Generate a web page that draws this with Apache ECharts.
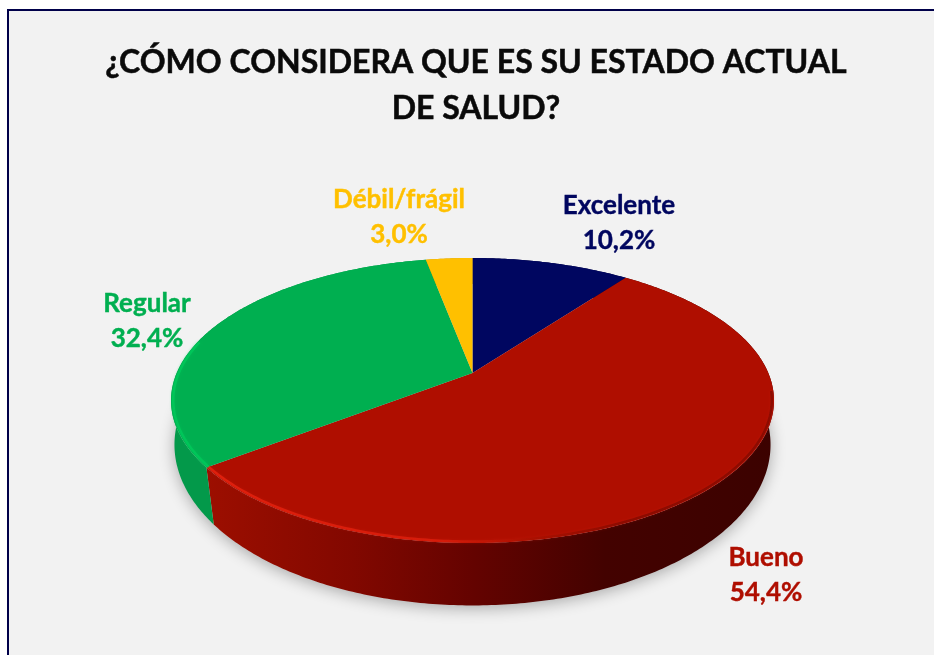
<!DOCTYPE html>
<html><head><meta charset="utf-8">
<style>html,body{margin:0;padding:0;background:#fff}#c{width:934px;height:655px}</style>
<script src="https://cdn.jsdelivr.net/npm/echarts@6/dist/echarts.min.js"></script>
</head><body><div id="c"></div>
<script>
const categories = ['Excelente', 'Bueno', 'Regular', 'Débil/frágil'];
const percentages = [10.2, 54.4, 32.4, 3.0];
const titleLines = ['¿CÓMO CONSIDERA QUE ES SU ESTADO ACTUAL', 'DE SALUD?'];

const topColors = ['#000660', '#AF0E00', '#00AF50', '#FFC000'];
const labelColors = ['#00065F', '#AF0E00', '#00AF50', '#FFC000'];
const labelAnchors = [[619, 223], [766, 575], [147, 321], [399, 217]];

// Perspective views of the disc's upper and lower faces
const CX = 472.5;
const TOP_VIEW = { apex: 373, A: 295.8, B: 137.2, K: 0.193 };
const LOW_VIEW = { apex: 419, A: 294.2, B: 156.6, K: 0.16 };
const total = percentages.reduce((a, b) => a + b, 0);

function project(view, theta, r) {
  const X = Math.sin(theta) * r, Z = Math.cos(theta) * r, w = 1 + view.K * Z;
  return [CX + view.A * X / w, view.apex - view.B * Z / w];
}
function arc(view, a0, a1, r) {
  const n = Math.max(2, Math.ceil((a1 - a0) / 0.012)), out = [];
  for (let i = 0; i <= n; i++) out.push(project(view, a0 + (a1 - a0) * i / n, r));
  return out;
}
const hGrad = (stops) => ({ type: 'linear', x: 171, y: 0, x2: 774, y2: 0, global: true,
  colorStops: stops.map(s => ({ offset: s[0], color: s[1] })) });
const sideFills = [
  '#00033a',
  hGrad([[0, '#A31000'], [0.3, '#820800'], [0.5, '#640300'], [0.72, '#430200'], [1, '#3C0200']]),
  '#03994A',
  '#c99700'
];
const rimFills = [
  null,
  hGrad([[0, '#E8230F'], [0.45, '#DC1E0C'], [0.6, '#A81000'], [0.75, '#860A00'], [1, '#860A00']]),
  '#00C85A',
  null
];
const rimGlows = [null, 'rgba(200,24,10,0.45)', 'rgba(0,194,87,0.6)', null];

function renderSlice(params, api) {
  const i = params.dataIndex;
  let before = 0;
  for (let j = 0; j < i; j++) before += api.value(0, j);
  const v = api.value(0);
  const a0 = before / total * Math.PI * 2, a1 = (before + v) / total * Math.PI * 2;
  const rim = arc(TOP_VIEW, a0, a1, 1);
  const children = [];

  if (i === 0) {
    children.push({ type: 'polygon', z2: 0, shape: { points: arc(LOW_VIEW, 0, Math.PI * 2, 1) },
      style: { fill: '#cfcfcf', shadowColor: 'rgba(0,0,0,0.3)', shadowBlur: 15, shadowOffsetY: 3 } });
  }
  children.push({ type: 'polygon', z2: 1,
    shape: { points: rim.concat(arc(LOW_VIEW, a0, a1, 1).reverse()) }, style: { fill: sideFills[i] } });
  children.push({ type: 'polygon', z2: 2,
    shape: { points: [project(TOP_VIEW, 0, 0)].concat(rim) }, style: { fill: topColors[i] } });

  const f0 = Math.max(a0, 1.7), f1 = Math.min(a1, 4.95);
  if (rimFills[i] && f1 > f0) {
    children.push({ type: 'polyline', z2: 3, shape: { points: arc(TOP_VIEW, f0, f1, 0.993) },
      style: { fill: 'none', stroke: rimFills[i], lineWidth: 2.5, opacity: 0.85,
        shadowColor: rimGlows[i], shadowBlur: 3 } });
  }
  const pct = v.toFixed(1).replace('.', ',') + '%';
  children.push({ type: 'text', z2: 5, style: {
    text: categories[i] + '\n' + pct, x: labelAnchors[i][0], y: labelAnchors[i][1],
    fill: labelColors[i], stroke: labelColors[i], lineWidth: 0.4,
    font: 'bold 26px Lato', textAlign: 'center', textVerticalAlign: 'middle', lineHeight: 35 } });
  return { type: 'group', children };
}

const chart = echarts.init(document.getElementById('c'), null, { renderer: 'canvas' });
chart.setOption({
  animation: false,
  backgroundColor: '#fff',
  title: {
    text: titleLines.join('\n'), left: 471, top: 35, textAlign: 'center',
    textStyle: { fontFamily: 'Lato', fontWeight: 'bold', fontSize: 32, lineHeight: 46, color: '#0a0a0a',
      textBorderColor: '#0a0a0a', textBorderWidth: 0.5 }
  },
  graphic: [{ type: 'rect', z: -1, silent: true, shape: { x: 8, y: 10, width: 1000, height: 1000 },
    style: { fill: '#F2F2F2', stroke: '#00004A', lineWidth: 2 } }],
  series: [{
    type: 'custom', coordinateSystem: 'none', renderItem: renderSlice,
    data: percentages.map((v, i) => ({ name: categories[i], value: [v] }))
  }]
});
</script></body></html>
